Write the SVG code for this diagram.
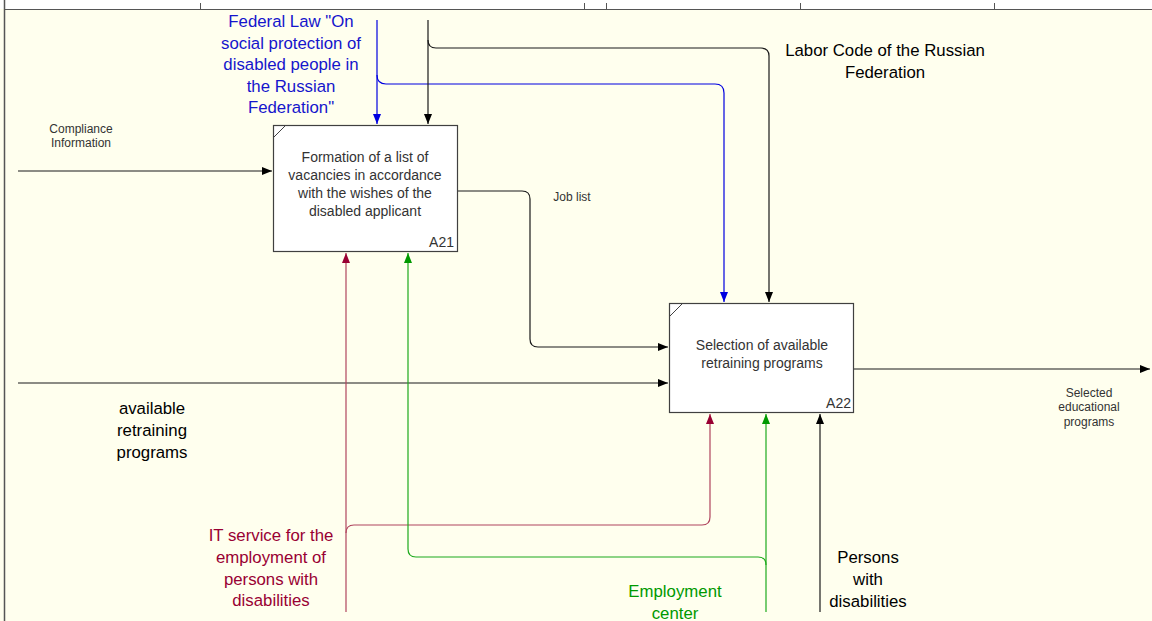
<svg xmlns="http://www.w3.org/2000/svg" width="1152" height="621" viewBox="0 0 1152 621">
<defs>
<style>
.bg{fill:#FFFFEE}
.box{fill:#FFFFFF;stroke:#404040;stroke-width:1.2}
.ln{fill:none;stroke-width:1.2}
.k{stroke:#1A1A1A}
.b{stroke:#0000E0}
.r{stroke:#B0455E}
.g{stroke:#1DAA1D}
.t{font-family:"Liberation Sans",Arial,sans-serif}
.bt{font-size:14px;fill:#333333;text-anchor:middle}
.sm{font-size:12px;fill:#333333;text-anchor:middle}
.lg{font-size:16.8px;text-anchor:middle}
</style>
<marker id="ak" viewBox="0 0 10 8" refX="10" refY="4" markerWidth="10" markerHeight="8" markerUnits="userSpaceOnUse" orient="auto"><path d="M0,0 L10,4 L0,8 Z" fill="#000000"/></marker>
<marker id="ab" viewBox="0 0 10 8" refX="10" refY="4" markerWidth="10" markerHeight="8" markerUnits="userSpaceOnUse" orient="auto"><path d="M0,0 L10,4 L0,8 Z" fill="#0000E0"/></marker>
<marker id="ar" viewBox="0 0 10 8" refX="10" refY="4" markerWidth="10" markerHeight="8" markerUnits="userSpaceOnUse" orient="auto"><path d="M0,0 L10,4 L0,8 Z" fill="#990033"/></marker>
<marker id="ag" viewBox="0 0 10 8" refX="10" refY="4" markerWidth="10" markerHeight="8" markerUnits="userSpaceOnUse" orient="auto"><path d="M0,0 L10,4 L0,8 Z" fill="#009900"/></marker>
</defs>
<rect x="0" y="0" width="1152" height="621" class="bg"/>
<rect x="0" y="0" width="1152" height="9" fill="#FFFFFF"/>
<g id="frame" stroke="#555555" stroke-width="1" fill="none">
<line x1="4" y1="9.5" x2="1152" y2="9.5"/>
<line x1="4.5" y1="0" x2="4.5" y2="621" stroke-width="1.5"/>
<line x1="200.5" y1="3" x2="200.5" y2="9"/>
<line x1="584.5" y1="3" x2="584.5" y2="9"/>
<line x1="606.5" y1="3" x2="606.5" y2="9"/>
<line x1="800.5" y1="3" x2="800.5" y2="9"/>
<line x1="994.5" y1="3" x2="994.5" y2="9"/>
</g>
<g id="connectors">
<path class="ln k" d="M18,171 H272" marker-end="url(#ak)"/>
<path class="ln k" d="M18,383 H668" marker-end="url(#ak)"/>
<path class="ln k" d="M854,369 H1150" marker-end="url(#ak)"/>
<path class="ln b" d="M377,20 V124" marker-end="url(#ab)"/>
<path class="ln b" d="M377,75 Q377,84 386,84 H715 Q724,84 724,93 V302" marker-end="url(#ab)"/>
<path class="ln k" d="M428,20 V124" marker-end="url(#ak)"/>
<path class="ln k" d="M428,40 Q428,48 436,48 H761 Q769,48 769,56 V302" marker-end="url(#ak)"/>
<path class="ln k" d="M458,191 H522 Q530,191 530,199 V339 Q530,347 538,347 H668" marker-end="url(#ak)"/>
<path class="ln r" d="M346,612 V253" marker-end="url(#ar)"/>
<path class="ln r" d="M346,533 Q346,525 354,525 H702 Q710,525 710,517 V414" marker-end="url(#ar)"/>
<path class="ln g" d="M766,565 Q766,557 758,557 H416 Q408,557 408,549 V253" marker-end="url(#ag)"/>
<path class="ln g" d="M766,612 V414" marker-end="url(#ag)"/>
<path class="ln k" d="M820,612 V414" marker-end="url(#ak)"/>
</g>
<g id="A21">
<rect class="box" x="273.5" y="125.5" width="184" height="126"/>
<line x1="274" y1="137" x2="286" y2="125" stroke="#404040" stroke-width="1"/>
<text class="t bt" x="365" y="162">Formation of a list of</text>
<text class="t bt" x="365" y="180">vacancies in accordance</text>
<text class="t bt" x="365" y="198">with the wishes of the</text>
<text class="t bt" x="365" y="216">disabled applicant</text>
<text class="t" x="454" y="247" font-size="14" fill="#333333" text-anchor="end">A21</text>
</g>
<g id="A22">
<rect class="box" x="669.5" y="303.5" width="184" height="109"/>
<line x1="670" y1="316" x2="683" y2="303" stroke="#404040" stroke-width="1"/>
<text class="t bt" x="762" y="350">Selection of available</text>
<text class="t bt" x="762" y="368">retraining programs</text>
<text class="t" x="851" y="408" font-size="14" fill="#333333" text-anchor="end">A22</text>
</g>
<g id="labels">
<text class="t sm" x="81" y="133">Compliance</text>
<text class="t sm" x="81" y="147">Information</text>
<text class="t sm" x="572" y="201">Job list</text>
<text class="t sm" x="1089" y="397">Selected</text>
<text class="t sm" x="1089" y="411">educational</text>
<text class="t sm" x="1089" y="426">programs</text>
<g class="t lg" fill="#1515CC">
<text x="291" y="27">Federal Law "On</text>
<text x="291" y="49">social protection of</text>
<text x="291" y="70">disabled people in</text>
<text x="291" y="92">the Russian</text>
<text x="291" y="113">Federation"</text>
</g>
<g class="t lg" fill="#000000">
<text x="885" y="56">Labor Code of the Russian</text>
<text x="885" y="78">Federation</text>
<text x="152" y="414">available</text>
<text x="152" y="436">retraining</text>
<text x="152" y="458">programs</text>
<text x="868" y="563">Persons</text>
<text x="868" y="585">with</text>
<text x="868" y="607">disabilities</text>
</g>
<g class="t lg" fill="#990033">
<text x="271" y="541">IT service for the</text>
<text x="271" y="563">employment of</text>
<text x="271" y="585">persons with</text>
<text x="271" y="606">disabilities</text>
</g>
<g class="t lg" fill="#009900">
<text x="675" y="597">Employment</text>
<text x="675" y="619">center</text>
</g>
</g>
</svg>
